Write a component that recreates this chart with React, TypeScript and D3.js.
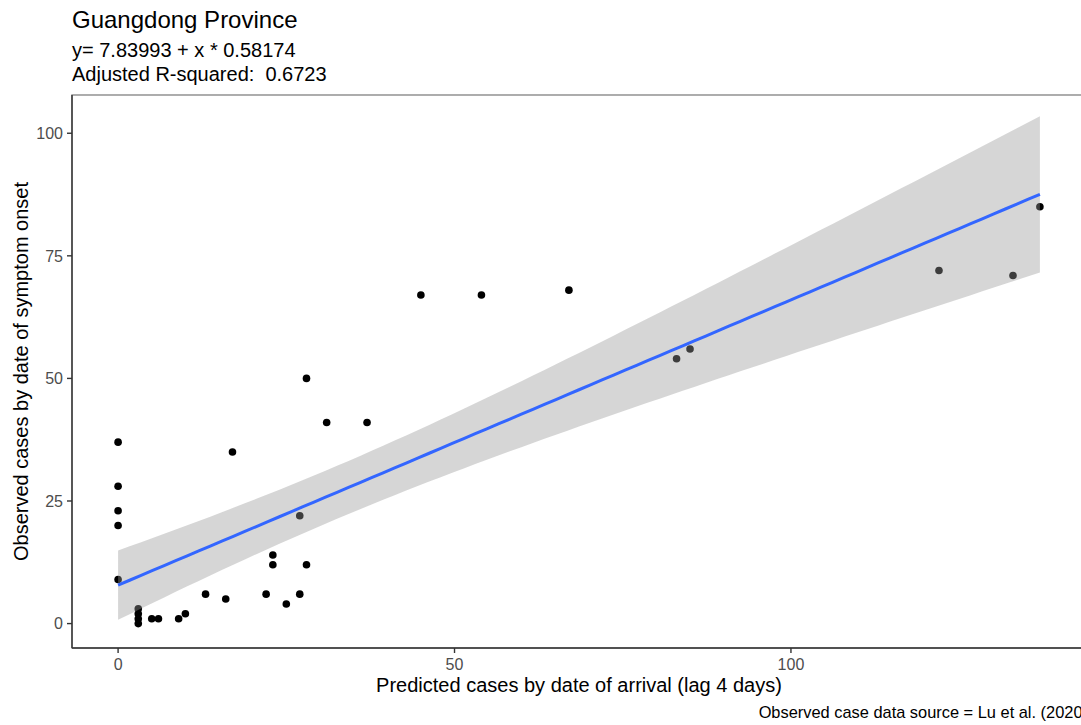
import React from "react";
import * as d3 from "d3";

// Observed vs predicted cases, Guangdong Province
const predictedCases = [0, 0, 0, 0, 0, 3, 3, 3, 3, 5, 6, 9, 10, 13, 16, 17, 22, 23, 23, 25, 27, 27, 28, 28, 31, 37, 45, 54, 67, 83, 85, 122, 133, 137];
const observedCases = [37, 28, 23, 20, 9, 0, 1, 2, 3, 1, 1, 1, 2, 6, 5, 35, 6, 14, 12, 4, 22, 6, 12, 50, 41, 41, 67, 67, 68, 54, 56, 72, 71, 85];

// Linear model coefficients
const intercept = 7.83993;
const slope = 0.58174;
const adjR2 = "0.6723";

const xTicks = [0, 50, 100];
const yTicks = [0, 25, 50, 75, 100];

const W = 1081;
const H = 725;
const FONT = "'Liberation Sans', Arial, Helvetica, sans-serif";

const panel = { left: 72, top: 95, right: 1086, bottom: 648 };

export default function App() {
  const x = d3.scaleLinear().domain([-6.85, 143.85]).range([panel.left, panel.right]);
  const y = d3.scaleLinear().domain([-4.98, 107.8]).range([panel.bottom, panel.top]);

  const pts = predictedCases.map((v, i) => ({ x: v, y: observedCases[i] }));
  const n = pts.length;
  const xbar = d3.mean(predictedCases) as number;
  const sxx = d3.sum(predictedCases, (v) => (v - xbar) ** 2);
  const sse = d3.sum(pts, (p) => (p.y - (intercept + slope * p.x)) ** 2);
  const s = Math.sqrt(sse / (n - 2));
  const tq = 2.037; // t quantile, 95%, df = 32

  const x0 = d3.min(predictedCases) as number;
  const x1 = d3.max(predictedCases) as number;
  const grid = d3.range(0, 81).map((i) => x0 + ((x1 - x0) * i) / 80);
  const band = grid.map((gx) => {
    const fit = intercept + slope * gx;
    const se = s * Math.sqrt(1 / n + (gx - xbar) ** 2 / sxx);
    return { x: gx, fit, lo: fit - tq * se, hi: fit + tq * se };
  });

  const area = d3
    .area<{ x: number; lo: number; hi: number }>()
    .x((d) => x(d.x))
    .y0((d) => y(d.lo))
    .y1((d) => y(d.hi));
  const line = d3
    .line<{ x: number; fit: number }>()
    .x((d) => x(d.x))
    .y((d) => y(d.fit));

  return (
    <div style={{ position: "absolute", left: 0, top: 0 }}>
      <svg width={W} height={H} style={{ display: "block", background: "#fff" }} fontFamily={FONT}>
        <rect x={0} y={0} width={W} height={H} fill="#fff" />
        <text x={72} y={28} fontSize={24} fill="#000">Guangdong Province</text>
        <text x={72} y={57} fontSize={20} fill="#000">{`y= ${intercept} + x * ${slope}`}</text>
        <text x={72} y={81} fontSize={20} fill="#000" style={{ whiteSpace: "pre" }}>{`Adjusted R-squared:  ${adjR2}`}</text>

        <rect
          x={panel.left}
          y={panel.top}
          width={panel.right - panel.left}
          height={panel.bottom - panel.top}
          fill="none"
          stroke="#8a8a8a"
          strokeWidth={1.4}
        />

        {pts.map((p, i) => (
          <circle key={i} cx={x(p.x)} cy={y(p.y)} r={3.8} fill="#000" />
        ))}

        <path d={area(band) ?? ""} fill="#999999" fillOpacity={0.4} />
        <path d={line(band) ?? ""} fill="none" stroke="#3366FF" strokeWidth={3} />

        <line x1={panel.left} x2={panel.left} y1={panel.top} y2={panel.bottom} stroke="#333" strokeWidth={1.4} />
        <line x1={panel.left} x2={panel.right} y1={panel.bottom} y2={panel.bottom} stroke="#333" strokeWidth={1.4} />

        {xTicks.map((t) => (
          <g key={`x${t}`}>
            <line x1={x(t)} x2={x(t)} y1={panel.bottom} y2={panel.bottom + 5} stroke="#333" strokeWidth={1.4} />
            <text x={x(t)} y={670} fontSize={16} fill="#4D4D4D" textAnchor="middle">{t}</text>
          </g>
        ))}
        {yTicks.map((t) => (
          <g key={`y${t}`}>
            <line x1={panel.left - 5} x2={panel.left} y1={y(t)} y2={y(t)} stroke="#333" strokeWidth={1.4} />
            <text x={63} y={y(t)} dy="0.36em" fontSize={16} fill="#4D4D4D" textAnchor="end">{t}</text>
          </g>
        ))}

        <text x={(panel.left + panel.right) / 2} y={692} fontSize={20} fill="#000" textAnchor="middle">
          Predicted cases by date of arrival (lag 4 days)
        </text>
        <text
          transform={`translate(28, ${(panel.top + panel.bottom) / 2}) rotate(-90)`}
          fontSize={20}
          fill="#000"
          textAnchor="middle"
        >
          Observed cases by date of symptom onset
        </text>
        <text x={1088} y={718} fontSize={16.4} fill="#000" textAnchor="end">
          Observed case data source = Lu et al. (2020)
        </text>
      </svg>
    </div>
  );
}
